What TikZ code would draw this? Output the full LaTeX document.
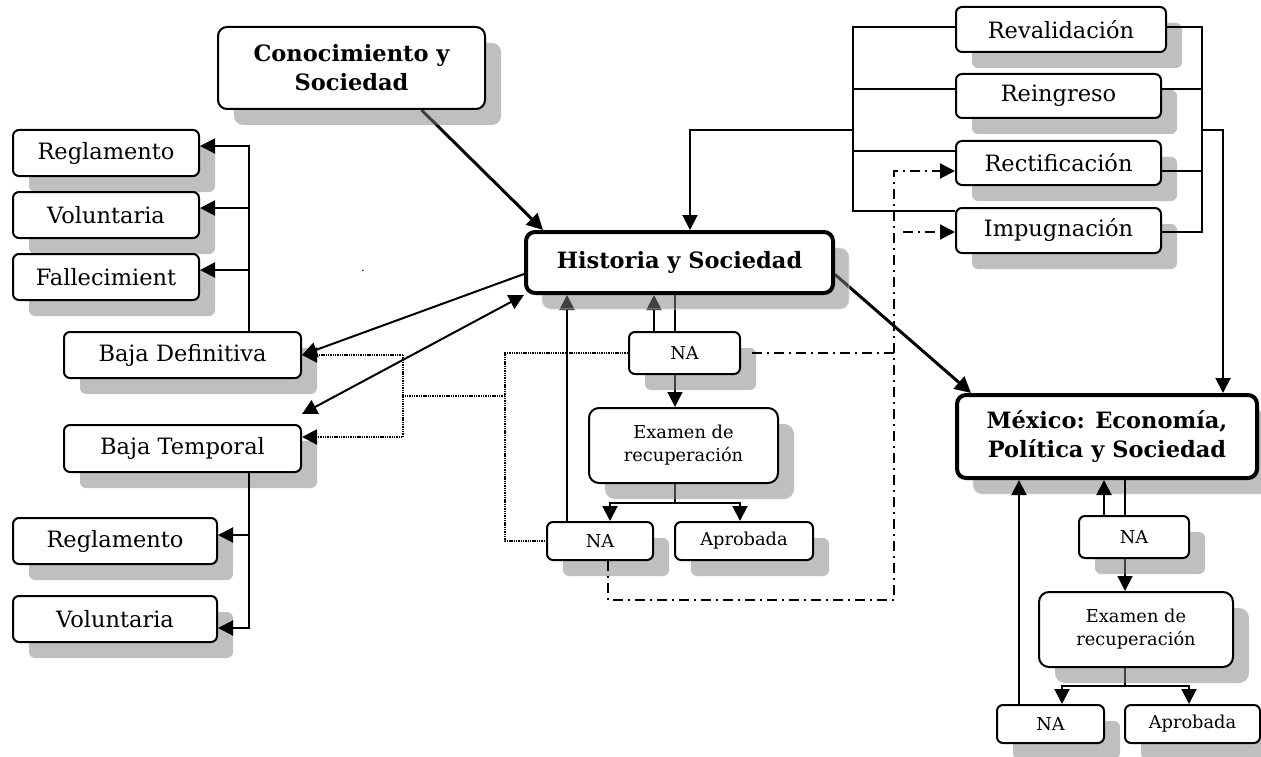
\documentclass[tikz,border=0pt]{standalone}
\usepackage{fontspec}
\setmainfont{DejaVu Serif}
\usetikzlibrary{arrows.meta,shadows,calc}
\pgfdeclarelayer{under}
\pgfsetlayers{under,main}
\begin{document}
\begin{tikzpicture}[x=1pt,y=-1pt,
  shd/.style={drop shadow={shadow xshift=16pt, shadow yshift=-16pt, fill=gray, draw=none, opacity=0.5}},
  shdb/.style={drop shadow={shadow xshift=16pt, shadow yshift=-16pt, fill=gray, draw=gray!25, line width=1.2pt, opacity=0.5}},
  box/.style={draw, line width=2pt, rounded corners=6pt, fill=white, align=center, inner sep=0pt, shd,
    font=\fontsize{22.5}{27}\selectfont},
  sbox/.style={box, font=\fontsize{17.8}{23}\selectfont},
  bbase/.style={draw, rounded corners=9pt, fill=white, align=center, inner sep=0pt,
    font=\bfseries\fontsize{22.5}{29}\selectfont},
  bbox/.style={bbase, line width=2pt, shd},
  mbox/.style={bbase, line width=4pt, shdb},
  ln/.style={line width=2pt},
  tln/.style={line width=1.5pt},
  tip/.tip={Triangle[length=15pt,width=15pt]},
  arr/.style={ln, -tip},
  tarr/.style={tln, -tip},
  darr/.style={ln, tip-tip},
  karr/.style={line width=3pt, -{Triangle[length=16pt,width=16pt]}},
  dotl/.style={line width=2.2pt, dash pattern=on 1.4pt off 0.9pt},
  ddl/.style={line width=2pt, dash pattern=on 10pt off 5pt on 2pt off 5pt},
]
\path[use as bounding box] (0,0) rectangle (1261,757);

% nodes
\node[bbox, minimum width=267pt, minimum height=82pt] (conoc) at (351.5,68) {Conocimiento y\\Sociedad};
\node[box, minimum width=186pt, minimum height=46pt] (reg1) at (106,153) {Reglamento};
\node[box, minimum width=186pt, minimum height=46pt] (vol1) at (106,215) {Voluntaria};
\node[box, minimum width=186pt, minimum height=46pt] (fall) at (106,277) {Fallecimient};
\node[box, minimum width=237pt, minimum height=46pt] (bdef) at (182.5,355) {Baja Definitiva};
\node[box, minimum width=237pt, minimum height=47pt] (btemp) at (182.5,448.5) {Baja Temporal};
\node[box, minimum width=204pt, minimum height=46pt] (reg2) at (115,541) {Reglamento};
\node[box, minimum width=204pt, minimum height=46pt] (vol2) at (115,619) {Voluntaria};
\node[mbox, minimum width=307pt, minimum height=61pt] (hist) at (679.5,262.5) {Historia y Sociedad};
\node[sbox, minimum width=111pt, minimum height=42pt] (na1) at (684.5,353) {NA};
\node[sbox, minimum width=189pt, minimum height=75pt, rounded corners=10pt] (exam1) at (683.5,445.5) {Examen de\\recuperación};
\node[sbox, minimum width=106pt, minimum height=38pt] (na2) at (600,541) {NA};
\node[sbox, minimum width=138pt, minimum height=38pt] (apr1) at (744,541) {Aprobada};
\node[box, minimum width=210pt, minimum height=45pt] (reval) at (1061,29.5) {Revalidación};
\node[box, minimum width=205pt, minimum height=44pt] (reing) at (1058.5,96) {Reingreso};
\node[box, minimum width=205pt, minimum height=44pt] (rect) at (1058.5,163) {Rectificación};
\node[box, minimum width=205pt, minimum height=45pt] (impug) at (1058.5,230.5) {Impugnación};
\node[mbox, minimum width=300pt, minimum height=83pt] (mex) at (1107,436.5) {México: Economía,\\Política y Sociedad};
\node[sbox, minimum width=110pt, minimum height=42pt] (na3) at (1134,537) {NA};
\node[sbox, minimum width=194pt, minimum height=75pt, rounded corners=10pt] (exam2) at (1136,629.5) {Examen de\\recuperación};
\node[sbox, minimum width=107pt, minimum height=38pt] (na4) at (1050.5,724) {NA};
\node[sbox, minimum width=135pt, minimum height=38pt] (apr2) at (1192.5,724) {Aprobada};
\node[inner sep=0pt, font=\fontsize{12}{12}\selectfont] (dot) at (363,271) {.};

% helper coordinates
\coordinate (lt) at (249,146);
\coordinate (lb2) at (249,628);
\coordinate (dl) at (403,396);
\coordinate (dr) at (505,396);
\coordinate (lb) at (853,130);
\coordinate (rb) at (1202,130);
\coordinate (hdrop) at (690,130);
\coordinate (mdrop) at (1223,130);
\coordinate (ddb) at (894,600);
\coordinate (s1) at (675,503);
\coordinate (s2) at (1125,686);

% left top bracket
\coordinate (v1a) at ([yshift=7pt]vol1.east);
\coordinate (f1a) at ([yshift=7pt]fall.east);
\draw[arr] (lt |- bdef.north) -- (lt) -- (lt -| reg1.east);
\draw[arr] (v1a -| lt) -- (v1a);
\draw[arr] (f1a -| lt) -- (f1a);
% left bottom bracket
\coordinate (r2a) at ([yshift=6pt]reg2.east);
\draw[arr] (btemp.south -| lb2) -- (lb2) -- (lb2 -| vol2.east);
\draw[arr] (r2a -| lb2) -- (r2a);

% historia to bajas
\draw[arr] ([yshift=-11.5pt]hist.west) -- (bdef.east);
\draw[darr] (hist.south west) -- ([yshift=10pt]btemp.north east);

% dotted
\coordinate (bta) at ([yshift=11.5pt]btemp.east);
\draw[dotl] (na1.west) -- (na1.west -| dr) -- (na2.west -| dr) -- (na2.west);
\draw[dotl] (dr) -- (dl);
\draw[dotl, -tip] (bdef.east -| dl) -- (bdef.east);
\draw[dotl, -tip] (bdef.east -| dl) -- (bta -| dl) -- (bta);

% top right brackets
\coordinate (rv) at ([yshift=2.5pt]reval.west);
\coordinate (rg) at ([yshift=7pt]reing.west);
\coordinate (rc) at ([yshift=12pt]rect.west);
\coordinate (im) at ([yshift=-4pt]impug.north west);
\draw[ln] (rv) -- (rv -| lb) -- (im -| lb) -- (im);
\draw[ln] (rg -| lb) -- (rg);
\draw[ln] (rc -| lb) -- (rc);
\draw[arr] (lb) -- (hdrop) -- (hdrop |- hist.north);
\coordinate (rv2) at ([yshift=2.5pt]reval.east);
\coordinate (rg2) at ([yshift=7pt]reing.east);
\coordinate (rc2) at ([yshift=-8pt]rect.east);
\coordinate (im2) at ([yshift=-1.5pt]impug.east);
\draw[ln] (rv2) -- (rv2 -| rb) -- (im2 -| rb) -- (im2);
\draw[ln] (rg2 -| rb) -- (rg2);
\draw[ln] (rc2 -| rb) -- (rc2);
\draw[arr] (rb) -- (mdrop) -- (mdrop |- mex.north);

% dash-dot
\coordinate (rcd) at ([yshift=-8pt]rect.west);
\coordinate (imd) at ([yshift=-1.5pt]impug.west);
\coordinate (imds) at (903,232);
\coordinate (n2b) at ([xshift=8pt]na2.south);
\coordinate (n1e) at ([xshift=11pt]na1.east);
\draw[ddl, -tip] (n2b) -- (n2b |- ddb) -- (ddb) -- (rcd -| ddb) -- (rcd);
\draw[ddl] (n1e) -- (n1e -| ddb);
\draw[ddl, -tip] (imds) -- (imd);

% under shadows
\begin{pgfonlayer}{under}
\draw[karr] ([xshift=70pt]conoc.south) -- ([xshift=19pt]hist.north west);
\draw[karr] ([yshift=-12pt]hist.east) -- ([xshift=16pt]mex.north west);
\coordinate (h1) at ([xshift=-30.5pt]na1.north);
\coordinate (h2) at ([xshift=-9.5pt]na1.north);
\draw[arr] (h1) -- (h1 |- hist.south);
\draw[tln] (h2 |- hist.south) -- (h2);
\draw[tarr] (h2 |- na1.south) -- (h2 |- exam1.north);
\draw[tln] (h2 |- exam1.south) -- (s1);
\coordinate (n2u) at ([xshift=-33pt]na2.north);
\draw[arr] (n2u) -- (n2u |- hist.south);
\draw[tln] (s2 |- exam2.south) -- (s2);
\draw[tarr] (s2 |- na3.south) -- (s2 |- exam2.north);
\end{pgfonlayer}
\coordinate (n2t) at ([xshift=10pt]na2.north);
\coordinate (a1t) at ([xshift=-4pt]apr1.north);
\draw[arr] (s1) -- (s1 -| n2t) -- (n2t);
\draw[arr] (s1) -- (s1 -| a1t) -- (a1t);

% mexico
\coordinate (h3) at ([xshift=-30pt]na3.north);
\draw[arr] (h3) -- (h3 |- mex.south);
\draw[tln] (s2 |- mex.south) -- (s2 |- na3.north);
\coordinate (n4t) at ([xshift=11.5pt]na4.north);
\coordinate (a2t) at ([xshift=-3.5pt]apr2.north);
\draw[arr] (s2) -- (s2 -| n4t) -- (n4t);
\draw[arr] (s2) -- (s2 -| a2t) -- (a2t);
\coordinate (n4u) at ([xshift=-31.5pt]na4.north);
\draw[arr] (n4u) -- (n4u |- mex.south);
\end{tikzpicture}
\end{document}
